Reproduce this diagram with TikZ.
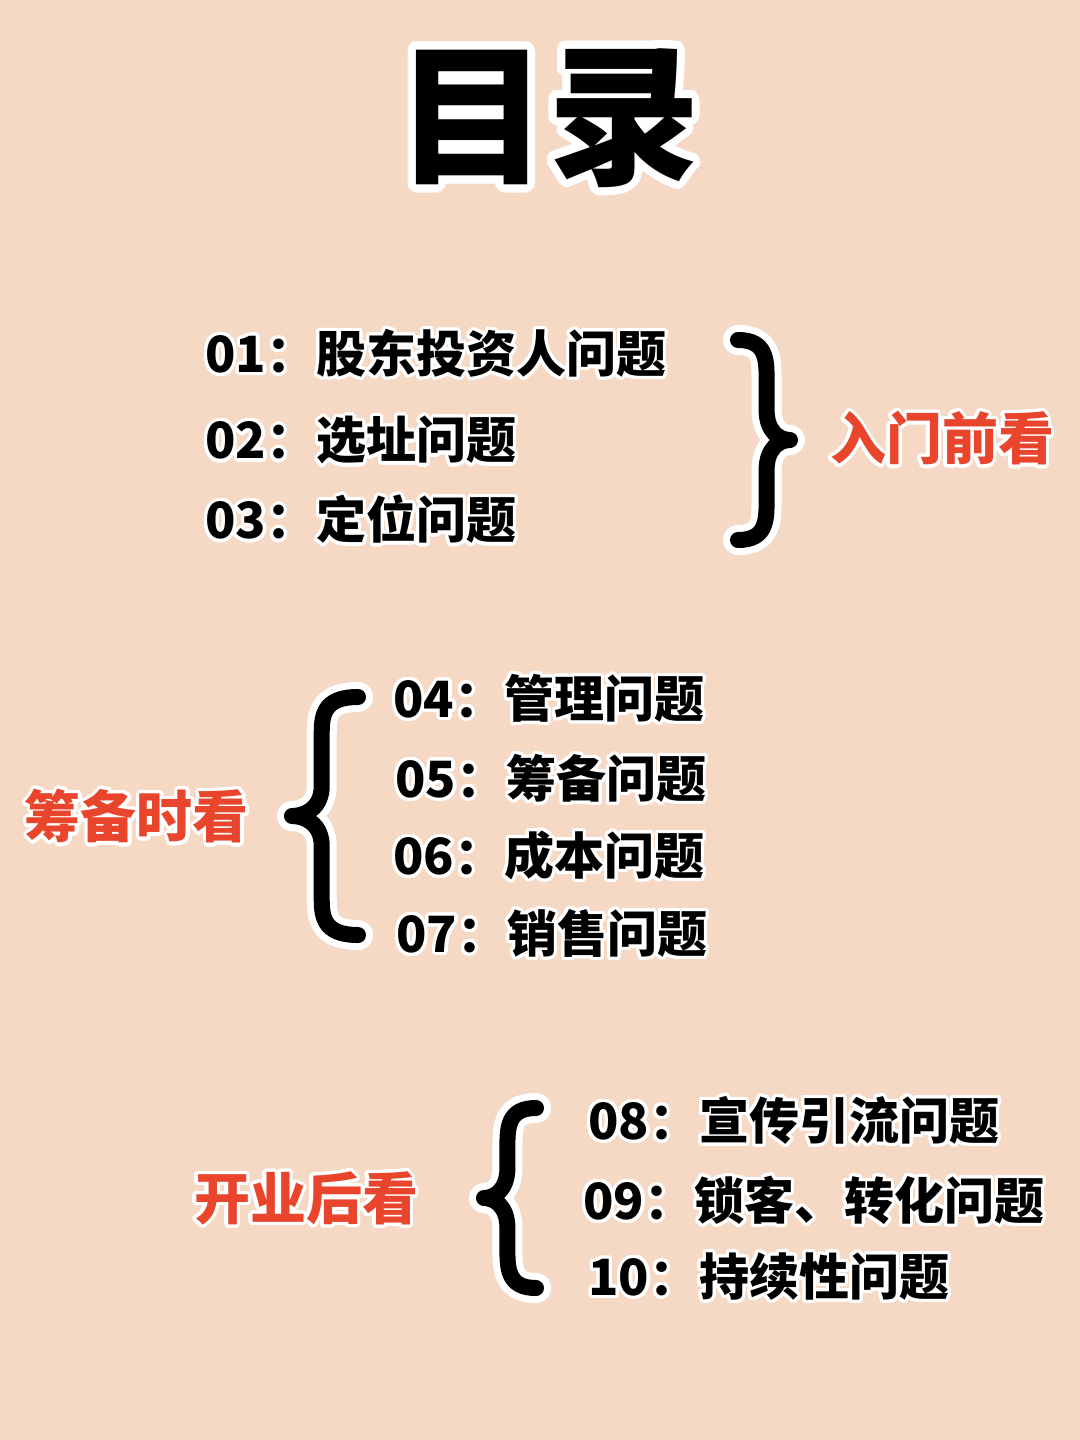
\documentclass[tikz,border=0pt]{standalone}
\usepackage{fontspec}
\usepackage[copies]{contour}
\newfontfamily\cjk{Noto Sans CJK SC}
\definecolor{bg}{HTML}{F5D9C4}
\definecolor{rd}{HTML}{E9452D}
\contourlength{1.6pt}
\contournumber{32}
\tikzset{
 item/.style={anchor=west,inner sep=0pt,font=\cjk\bfseries\fontsize{25}{25}\selectfont,text=black},
 lab/.style={inner sep=0pt,font=\cjk\bfseries\fontsize{28}{28}\selectfont,text=rd},
 bw/.style={draw=white,line width=15pt,line cap=round,line join=round},
 bb/.style={draw=black,line width=8pt,line cap=round,line join=round},
}
\newcommand{\lbr}[5]{% xl xr y0 y1 style
 \path[#5] ({#2},{#3}) .. controls ({#1+0.45*(#2-#1)},{#3}) and ({#1+0.45*(#2-#1)},{#3+20}) .. ({#1+0.45*(#2-#1)},{#3+40})
  -- ({#1+0.45*(#2-#1)},{(#3)/2+(#4)/2-30}) .. controls ({#1+0.45*(#2-#1)},{(#3)/2+(#4)/2-8}) and ({#1+0.2*(#2-#1)},{(#3)/2+(#4)/2}) .. ({#1},{(#3)/2+(#4)/2})
  .. controls ({#1+0.2*(#2-#1)},{(#3)/2+(#4)/2}) and ({#1+0.45*(#2-#1)},{(#3)/2+(#4)/2+8}) .. ({#1+0.45*(#2-#1)},{(#3)/2+(#4)/2+30})
  -- ({#1+0.45*(#2-#1)},{#4-40}) .. controls ({#1+0.45*(#2-#1)},{#4-20}) and ({#1+0.45*(#2-#1)},{#4}) .. ({#2},{#4});}
\newcommand{\rbr}[5]{% xl xr y0 y1 style
 \path[#5] ({#1},{#3}) .. controls ({#2-0.45*(#2-#1)},{#3}) and ({#2-0.45*(#2-#1)},{#3+20}) .. ({#2-0.45*(#2-#1)},{#3+40})
  -- ({#2-0.45*(#2-#1)},{(#3)/2+(#4)/2-30}) .. controls ({#2-0.45*(#2-#1)},{(#3)/2+(#4)/2-8}) and ({#2-0.2*(#2-#1)},{(#3)/2+(#4)/2}) .. ({#2},{(#3)/2+(#4)/2})
  .. controls ({#2-0.2*(#2-#1)},{(#3)/2+(#4)/2}) and ({#2-0.45*(#2-#1)},{(#3)/2+(#4)/2+8}) .. ({#2-0.45*(#2-#1)},{(#3)/2+(#4)/2+30})
  -- ({#2-0.45*(#2-#1)},{#4-40}) .. controls ({#2-0.45*(#2-#1)},{#4-20}) and ({#2-0.45*(#2-#1)},{#4}) .. ({#1},{#4});}
\begin{document}
\begin{tikzpicture}[x=0.5pt,y=-0.5pt]
\fill[bg] (0,0) rectangle (1080,1440);
\useasboundingbox (0,0) rectangle (1080,1440);
\contourlength{4pt}
\node[inner sep=0pt,font=\cjk\bfseries\fontsize{76}{76}\selectfont] (title) at (548,122) {\contour{white}{目录}};
\contourlength{1.6pt}
% section 1
\node[item] (i1) at (205,355) {\contour{white}{01：股东投资人问题}};
\node[item] (i2) at (205,442) {\contour{white}{02：选址问题}};
\node[item] (i3) at (205,521) {\contour{white}{03：定位问题}};
\rbr{738}{790}{340}{540}{bw}
\rbr{738}{790}{340}{540}{bb}
\node[lab] (l1) at (942,440) {\contour{white}{入门前看}};
% section 2
\lbr{292}{358}{697}{935}{bw}
\lbr{292}{358}{697}{935}{bb}
\node[lab] (l2) at (137,818) {\contour{white}{筹备时看}};
\node[item] (i4) at (393,700) {\contour{white}{04：管理问题}};
\node[item] (i5) at (395,780) {\contour{white}{05：筹备问题}};
\node[item] (i6) at (393,857) {\contour{white}{06：成本问题}};
\node[item] (i7) at (396,935) {\contour{white}{07：销售问题}};
% section 3
\lbr{484}{536}{1108}{1288}{bw}
\lbr{484}{536}{1108}{1288}{bb}
\node[lab] (l3) at (306,1200) {\contour{white}{开业后看}};
\node[item] (i8) at (588,1122) {\contour{white}{08：宣传引流问题}};
\node[item] (i9) at (583,1202) {\contour{white}{09：锁客、转化问题}};
\node[item] (i10) at (588,1278) {\contour{white}{10：持续性问题}};
\end{tikzpicture}
\end{document}
